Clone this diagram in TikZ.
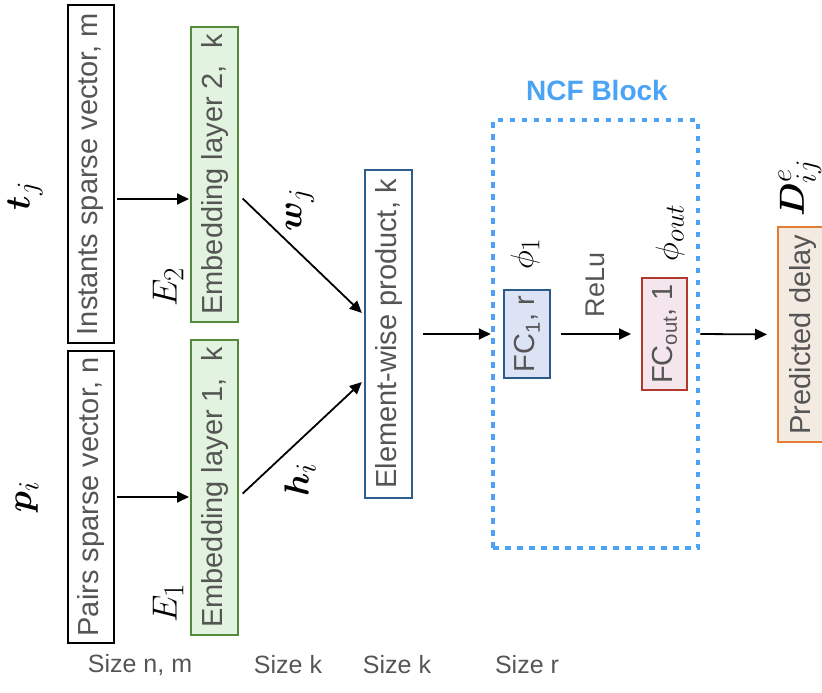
\documentclass[tikz,border=0pt]{standalone}
\usepackage{amsmath,bm}
\usepackage{fontspec}
\newfontfamily\hv{Liberation Sans}
\usetikzlibrary{arrows.meta}
\definecolor{txt}{HTML}{555555}
\definecolor{embfill}{HTML}{E2F3DF}
\definecolor{embdraw}{HTML}{548B3A}
\definecolor{ewpdraw}{HTML}{2F5E8E}
\definecolor{fcfill}{HTML}{DCE3F4}
\definecolor{fcdraw}{HTML}{2C5A8A}
\definecolor{outfill}{HTML}{F5E5EC}
\definecolor{outdraw}{HTML}{B23A2C}
\definecolor{predfill}{HTML}{F3EBE2}
\definecolor{preddraw}{HTML}{E57C35}
\definecolor{ncfblue}{HTML}{4AA3F5}
\begin{document}
\begin{tikzpicture}[x=1pt,y=-1pt,
  box/.style={draw, rotate=90, inner sep=0pt, text=txt, font=\hv\fontsize{29}{31}\selectfont, line width=2pt},
  inbox/.style={box, draw=black, line width=2.6pt},
  embbox/.style={box, fill=embfill, draw=embdraw},
  arr/.style={-{Triangle[length=12pt,width=11pt]}, line width=1.8pt},
  mlab/.style={rotate=90, inner sep=0pt, font=\Huge, scale=1.4},
  slab/.style={rotate=90, inner sep=0pt, font=\Huge, scale=1.3},
  size/.style={text=txt, inner sep=0pt, font=\hv\fontsize{25}{28}\selectfont}]
\useasboundingbox (0,0) rectangle (822,693);
\clip (0,0) rectangle (822,693);

% input boxes
\node[inbox, minimum width=338pt, minimum height=46pt] (inst) at (91,174) {Instants sparse vector, m};
\node[inbox, minimum width=292pt, minimum height=46pt] (pairs) at (91,497) {Pairs sparse vector, n};
% embedding boxes
\node[embbox, minimum width=295pt, minimum height=47pt] (emb2) at (214.5,174.5) {Embedding layer 2,\ \ k};
\node[embbox, minimum width=295pt, minimum height=47pt] (emb1) at (214.5,487.5) {Embedding layer 1,\ \ k};
% element-wise
\node[box, draw=ewpdraw, fill=white, minimum width=328pt, minimum height=47pt] (ewp) at (388.5,334) {Element-wise product, k};
% NCF block
\node[draw=ncfblue, line width=4.5pt, dash pattern=on 5.5pt off 6.5pt, minimum width=205pt, minimum height=428pt, inner sep=0pt] (ncf) at (595.5,334) {};
\node[text=ncfblue, inner sep=0pt, font=\hv\bfseries\fontsize{28}{30}\selectfont] (ncflab) at (597,90) {NCF Block};
\node[box, fill=fcfill, draw=fcdraw, minimum width=88pt, minimum height=46pt] (fc1) at (527,334) {FC\textsubscript{1}, r};
\node[box, fill=outfill, draw=outdraw, minimum width=112pt, minimum height=45pt] (fcout) at (664.5,334) {FC\textsubscript{out}, 1};
% predicted
\node[box, fill=predfill, draw=preddraw, minimum width=215pt, minimum height=50pt] (pred) at (803,334.5) {Predicted delay};

% math labels
\node[mlab] (tj) at (25,196) {$\bm{t}_j$};
\node[mlab] (pi) at (27,497) {$\bm{p}_i$};
\node[mlab] (E2) at (168,287) {$E_2$};
\node[mlab] (E1) at (168,603) {$E_1$};
\node[mlab] (wj) at (300,210) {$\bm{w}_j$};
\node[mlab] (hi) at (300,480) {$\bm{h}_i$};
\node[slab] (phi1) at (525,254) {$\phi_1$};
\node[slab] (phiout) at (670,233) {$\phi_{out}$};
\node[mlab] (D) at (800,188) {$\bm{D}^e_{ij}$};
\node[size, rotate=90, font=\hv\fontsize{27}{29}\selectfont] (relu) at (595,285) {ReLu};

% size labels
\node[size] (s1) at (140,665) {Size n, m};
\node[size] (s2) at (288,665) {Size k};
\node[size] (s3) at (397,665) {Size k};
\node[size] (s4) at (527,665) {Size r};

% connectors
\coordinate (ya) at (0,199);
\coordinate (yb) at (0,497);
\coordinate (yc) at (0,195);
\coordinate (yd) at (0,315);
\coordinate (ye) at (0,380);
\draw[arr, shorten <=2pt, shorten >=1pt] (inst.south |- ya) -- (emb2.north |- ya);
\draw[arr, shorten <=2pt, shorten >=1pt] (pairs.south |- yb) -- (emb1.north |- yb);
\draw[arr, shorten <=5pt, shorten >=3pt] (emb2.south |- yc) -- (ewp.north |- yd);
\draw[arr, shorten <=5pt, shorten >=3pt] (emb1.south |- yb) -- (ewp.north |- ye);
\draw[arr, shorten <=10pt] (ewp.south) -- (ncf.west |- ewp.south);
\draw[arr, shorten <=10pt, shorten >=10pt] (fc1.south) -- (fcout.north);
\draw[arr, shorten >=10pt] (ncf.east |- fcout.south) -- (pred.north);
\end{tikzpicture}
\end{document}
